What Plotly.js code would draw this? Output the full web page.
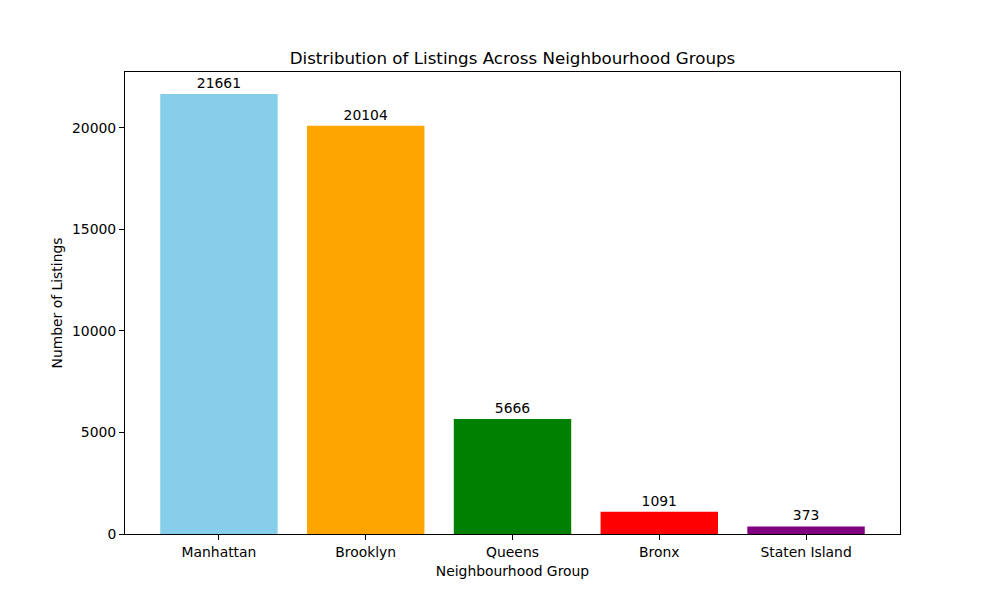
<!DOCTYPE html>
<html><head><meta charset="utf-8">
<script src="https://cdn.plot.ly/plotly-3.0.1.min.js"></script>
<style>body{margin:0}</style></head>
<body><div id="c" style="width:1000px;height:600px"></div>
<script>
const categories = ["Manhattan", "Brooklyn", "Queens", "Bronx", "Staten Island"];
const listings = [21661, 20104, 5666, 1091, 373];
const colors = ["skyblue", "orange", "green", "red", "purple"];
const yTicks = [0, 5000, 10000, 15000, 20000];

const trace = {
  type: "bar",
  x: categories.map((_, i) => i),
  y: listings,
  width: 0.8,
  marker: {color: colors},
  text: listings.map(String),
  textposition: "outside",
  cliponaxis: false,
  textfont: {family: "DejaVu Sans", size: 13.9, color: "black"},
  hoverinfo: "none"
};
const layout = {
  width: 1000, height: 600,
  margin: {l: 125, r: 100, t: 72, b: 66},
  paper_bgcolor: "white", plot_bgcolor: "white",
  font: {family: "DejaVu Sans", size: 13.9, color: "black"},
  showlegend: false,
  title: {text: "Distribution of Listings Across Neighbourhood Groups", x: 0.5125, xanchor: "center", y: 0.893, yanchor: "bottom", font: {size: 16.7}},
  xaxis: {
    range: [-0.64, 4.64], tickvals: categories.map((_, i) => i), ticktext: categories,
    tickfont: {size: 13.9},
    showgrid: false, zeroline: false, showline: true, mirror: true, linecolor: "black", linewidth: 1,
    ticks: "outside", ticklen: 5, tickcolor: "black",
    title: {text: "Neighbourhood Group", standoff: 7, font: {size: 13.9}}
  },
  yaxis: {
    range: [0, 22744], tickvals: yTicks, ticktext: yTicks.map(String),
    tickfont: {size: 13.9},
    showgrid: false, zeroline: false, showline: true, mirror: true, linecolor: "black", linewidth: 1,
    ticks: "outside", ticklen: 5, tickcolor: "black",
    title: {text: "Number of Listings", standoff: 6, font: {size: 13.9}}
  }
};
Plotly.newPlot("c", [trace], layout, {staticPlot: true});
</script></body></html>
